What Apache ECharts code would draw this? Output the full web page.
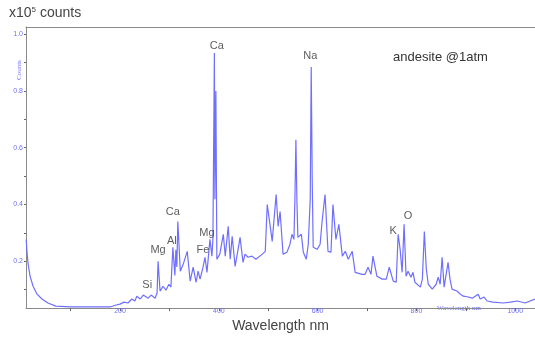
<!DOCTYPE html>
<html>
<head>
<meta charset="utf-8">
<script src="https://cdn.jsdelivr.net/npm/echarts@6/dist/echarts.min.js"></script>
<style>
  html, body { margin: 0; padding: 0; background: #fff; }
  #chart { width: 535px; height: 338px; }
</style>
</head>
<body>
<div id="chart"></div>
<script>
// spectrum (wavelength nm / counts x10^5)
const wavelength = [10, 12, 14, 18, 24, 32, 42, 54, 70, 99, 180, 192, 200, 208, 216, 224, 230, 234, 241, 247,
  251, 257, 263, 271, 275, 277, 281, 287, 293, 299, 303, 307, 311, 313, 315, 317, 322, 328, 336, 342,
  348, 354, 358, 362, 368, 372, 376, 382, 386, 388, 391, 392, 394, 396, 402, 409, 413, 419, 423, 427,
  433, 439, 443, 449, 453, 459, 467, 475, 479, 488, 494, 498, 504, 508, 516, 520, 524, 530, 538, 544,
  548, 552, 554, 556, 558, 560, 567, 571, 577, 581, 585, 587, 589, 591, 599, 605, 609, 615, 621, 627,
  631, 637, 643, 650, 656, 662, 670, 676, 690, 696, 702, 708, 712, 720, 731, 739, 745, 753, 759, 763,
  767, 771, 775, 779, 783, 789, 793, 797, 808, 812, 816, 820, 824, 832, 840, 844, 848, 852, 856, 864,
  868, 872, 882, 889, 895, 905, 913, 925, 929, 933, 937, 943, 955, 976, 990, 1004, 1020, 1040];
const counts = [0.277, 0.225, 0.189, 0.147, 0.112, 0.084, 0.067, 0.053, 0.042, 0.039, 0.039, 0.046, 0.049, 0.056, 0.053, 0.067, 0.060, 0.077, 0.067, 0.081,
  0.084, 0.070, 0.081, 0.070, 0.088, 0.200, 0.095, 0.112, 0.098, 0.119, 0.109, 0.249, 0.150, 0.240, 0.180, 0.340, 0.165, 0.190, 0.235, 0.130,
  0.179, 0.126, 0.165, 0.137, 0.179, 0.214, 0.161, 0.277, 0.218, 0.277, 0.933, 0.418, 0.800, 0.207, 0.225, 0.295, 0.218, 0.323, 0.207, 0.288,
  0.182, 0.242, 0.284, 0.196, 0.225, 0.214, 0.218, 0.207, 0.200, 0.225, 0.235, 0.400, 0.323, 0.270, 0.435, 0.323, 0.375, 0.225, 0.232, 0.260,
  0.295, 0.277, 0.418, 0.628, 0.418, 0.284, 0.295, 0.232, 0.207, 0.260, 0.418, 0.884, 0.488, 0.249, 0.242, 0.260, 0.340, 0.435, 0.235, 0.232,
  0.400, 0.277, 0.330, 0.218, 0.235, 0.207, 0.235, 0.161, 0.154, 0.154, 0.179, 0.154, 0.218, 0.147, 0.137, 0.137, 0.179, 0.130, 0.126, 0.295,
  0.242, 0.161, 0.330, 0.147, 0.165, 0.144, 0.161, 0.126, 0.109, 0.137, 0.305, 0.172, 0.119, 0.102, 0.119, 0.144, 0.119, 0.214, 0.109, 0.196,
  0.137, 0.102, 0.095, 0.084, 0.077, 0.074, 0.070, 0.084, 0.067, 0.067, 0.074, 0.060, 0.056, 0.053, 0.056, 0.060, 0.053, 0.067];

// element labels (text anchor positions in data units)
const peakNames = ['Si', 'Mg', 'Al', 'Ca', 'Fe', 'Mg', 'Ca', 'Na', 'K', 'O'];
const peakWl = [255, 277, 305, 307, 368, 376, 396, 585, 753, 783];
const peakCounts = [0.116, 0.239, 0.27, 0.372, 0.239, 0.30, 0.958, 0.923, 0.305, 0.358];

const xTicks = [100, 200, 300, 400, 500, 600, 700, 800, 900, 1000];
const xLabels = [200, 400, 600, 800, 1000];
const yTicks = [0.1, 0.2, 0.3, 0.4, 0.5, 0.6, 0.7, 0.8, 0.9, 1.0];
const yLabels = [0.2, 0.4, 0.6, 0.8, 1.0];

const X_MIN = 9.65, X_MAX = 1040;
const Y_MIN = 0.035, Y_MAX = 1.025;
const blue = '#6f6fff';
const frame = '#8a8a8a';

const chart = echarts.init(document.getElementById('chart'));

const option = {
  animation: false,
  textStyle: { fontFamily: 'Liberation Sans, Arial, sans-serif' },
  grid: { left: 26, top: 27, right: 0, bottom: 29 },
  xAxis: [
    {
      type: 'value', min: X_MIN, max: X_MAX,
      name: 'Wavelength nm', nameLocation: 'middle', nameGap: 10,
      nameTextStyle: { color: '#444', fontSize: 14 },
      axisLine: { lineStyle: { color: frame } },
      axisTick: { show: true, length: 3, customValues: xTicks, lineStyle: { color: '#666' } },
      axisLabel: { customValues: xLabels, color: blue, fontSize: 7, margin: -1, formatter: v => String(v) },
      splitLine: { show: false }
    },
    {
      // top frame line only
      type: 'value', position: 'top', min: X_MIN, max: X_MAX,
      axisLine: { show: true, lineStyle: { color: frame } },
      axisTick: { show: false }, axisLabel: { show: false }, splitLine: { show: false }
    }
  ],
  yAxis: {
    type: 'value', min: Y_MIN, max: Y_MAX,
    axisLine: { show: true, lineStyle: { color: frame } },
    axisTick: { show: true, length: 2, customValues: yTicks, lineStyle: { color: '#666' } },
    axisLabel: { customValues: yLabels, color: blue, fontSize: 7, margin: 3, formatter: v => v.toFixed(1) },
    splitLine: { show: false }
  },
  series: [
    {
      type: 'line',
      data: wavelength.map((w, i) => [w, counts[i]]),
      showSymbol: false,
      lineStyle: { color: blue, width: 1.2 },
      z: 2
    },
    {
      type: 'scatter',
      symbolSize: 0,
      data: peakNames.map((n, i) => ({ name: n, value: [peakWl[i], peakCounts[i]] })),
      label: {
        show: true, position: 'inside', formatter: '{b}',
        color: '#333', fontSize: 11
      },
      z: 3
    }
  ],
  graphic: [
    {
      type: 'text', left: 9, top: 6,
      style: {
        text: 'x10{s|5} counts',
        rich: { s: { fontSize: 8, verticalAlign: 'top', padding: [0, 0, 7, 0], fill: '#444' } },
        fill: '#444', font: '14px Liberation Sans, Arial, sans-serif'
      }
    },
    {
      type: 'text', left: 393, top: 51,
      style: { text: 'andesite @1atm', fill: '#333', font: '13px Liberation Sans, Arial, sans-serif' }
    },
    {
      type: 'text', x: 16, y: 80, rotation: Math.PI / 2,
      style: { text: 'Counts', fill: blue, font: '7px Liberation Serif, serif' }
    },
    {
      type: 'text', left: 437, top: 305,
      style: { text: 'Wavelength nm', fill: blue, font: '7px Liberation Serif, serif' }
    }
  ]
};

chart.setOption(option);
</script>
</body>
</html>
